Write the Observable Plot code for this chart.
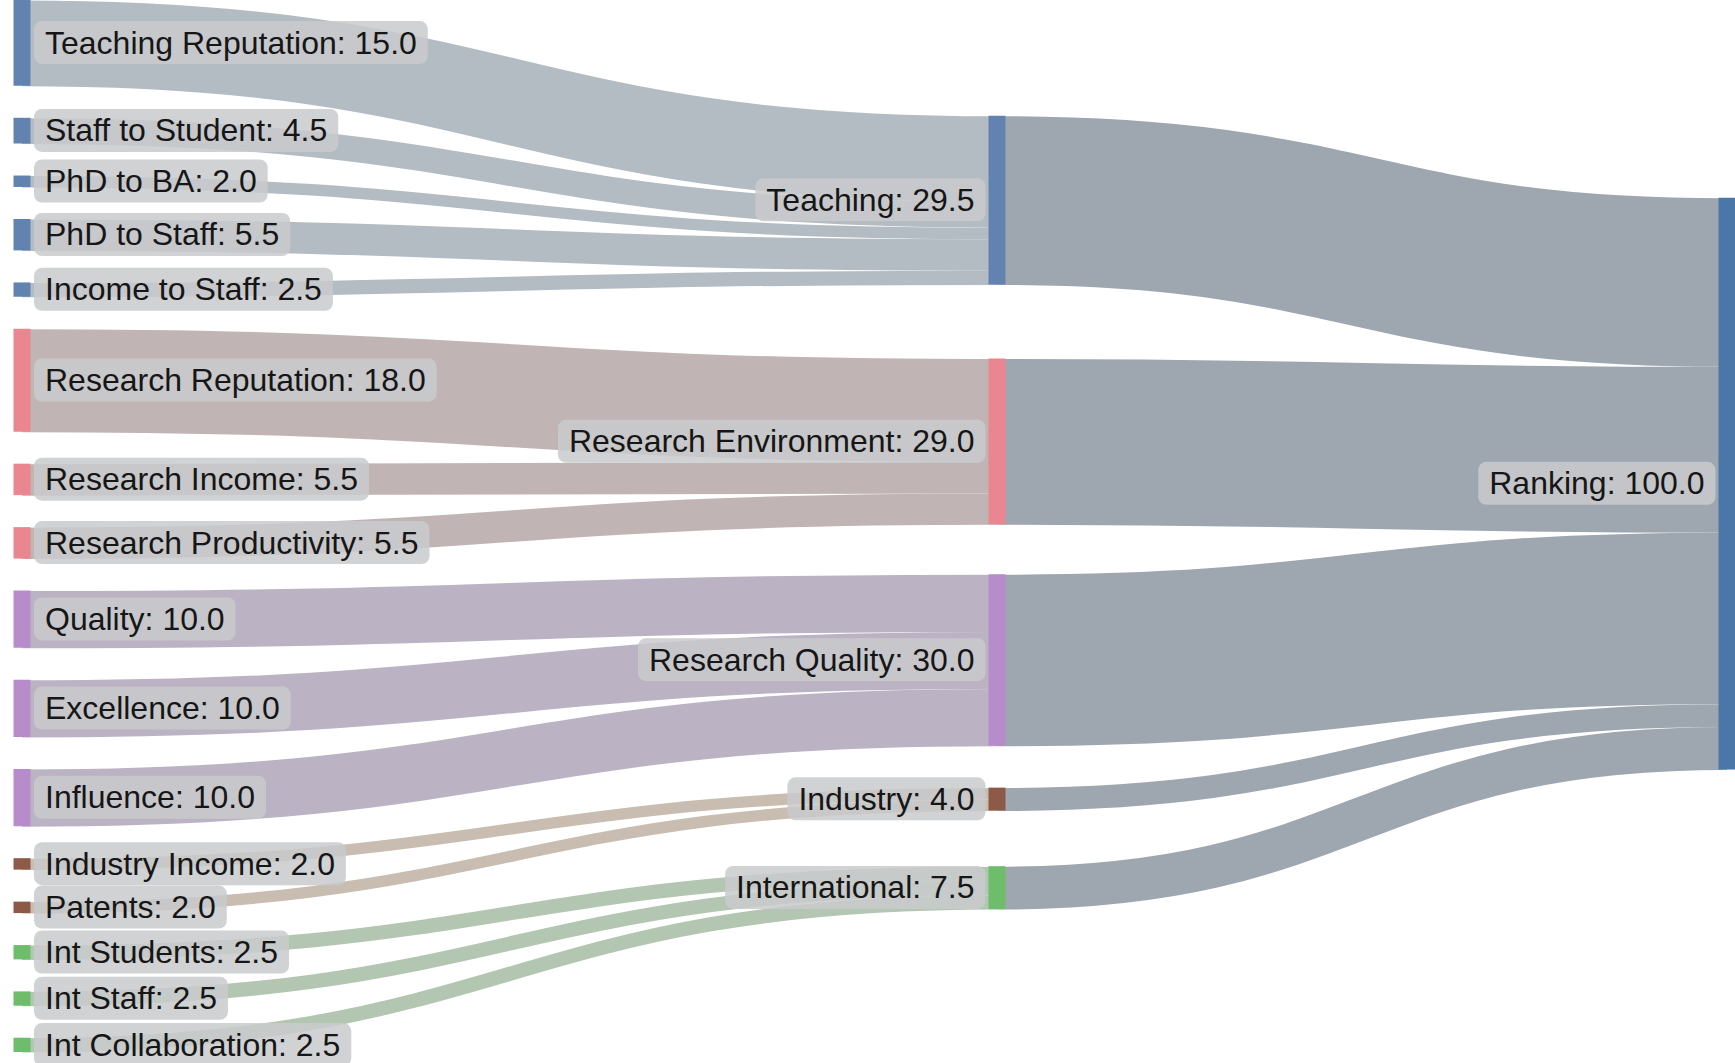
<!DOCTYPE html>
<html>
<head>
<meta charset="utf-8">
<script src="https://cdn.jsdelivr.net/npm/d3@7"></script>
<script src="https://cdn.jsdelivr.net/npm/@observablehq/plot@0.6"></script>
<style>
  html, body { margin: 0; padding: 0; background: #fff; overflow: hidden; }
  #chart svg { display: block; }
</style>
</head>
<body>
<div id="chart"></div>
<script>
// ---------------- data ----------------
const indicatorNames = [
  "Teaching Reputation", "Staff to Student", "PhD to BA", "PhD to Staff", "Income to Staff",
  "Research Reputation", "Research Income", "Research Productivity",
  "Quality", "Excellence", "Influence",
  "Industry Income", "Patents",
  "Int Students", "Int Staff", "Int Collaboration"
];
const indicatorValues = [15.0, 4.5, 2.0, 5.5, 2.5, 18.0, 5.5, 5.5, 10.0, 10.0, 10.0, 2.0, 2.0, 2.5, 2.5, 2.5];
const indicatorPillar = [
  "Teaching", "Teaching", "Teaching", "Teaching", "Teaching",
  "Research Environment", "Research Environment", "Research Environment",
  "Research Quality", "Research Quality", "Research Quality",
  "Industry", "Industry",
  "International", "International", "International"
];
const pillarNames = ["Teaching", "Research Environment", "Research Quality", "Industry", "International"];
const rootName = "Ranking";

// ---------------- styles ----------------
const nodeColor = {
  "Teaching": "#6283b0", "Research Environment": "#e9868f", "Research Quality": "#b68cca",
  "Industry": "#8c5a47", "International": "#6dbd6b", "Ranking": "#4a77a8"
};
const linkColor = {
  "Teaching": "#b3bbc3", "Research Environment": "#c1b4b4", "Research Quality": "#bbb3c3",
  "Industry": "#c8bdb0", "International": "#b3c6b1", "Ranking": "#9ea6af"
};
const W = 1735, H = 1063;
const nodePadding = 5.6;      // gap between nodes, in value units
const nodeWidth = 17;         // px
const colCenters = [21.5, 996.5, 1726.5];
const plotBottom = 1052;
const iterations = 32;

// ---------------- graph ----------------
const nodes = [];
const byName = new Map();
function addNode(name, layer, group) {
  const n = {name, layer, group, sourceLinks: [], targetLinks: [], index: nodes.length};
  nodes.push(n); byName.set(name, n); return n;
}
indicatorNames.forEach((n, i) => addNode(n, 0, indicatorPillar[i]));
pillarNames.forEach(n => addNode(n, 1, n));
addNode(rootName, 2, rootName);

const links = [];
indicatorNames.forEach((n, i) => links.push({source: byName.get(n), target: byName.get(indicatorPillar[i]), value: indicatorValues[i]}));
pillarNames.forEach(p => links.push({
  source: byName.get(p), target: byName.get(rootName),
  value: d3.sum(indicatorValues.filter((v, i) => indicatorPillar[i] === p))
}));
links.forEach((l, i) => { l.index = i; l.source.sourceLinks.push(l); l.target.targetLinks.push(l); });
nodes.forEach(n => n.value = Math.max(d3.sum(n.sourceLinks, l => l.value), d3.sum(n.targetLinks, l => l.value)));

// ---------------- sankey layout (centre relaxation, input order kept) ----------------
const columns = d3.groups(nodes, n => n.layer).sort((a, b) => a[0] - b[0]).map(g => g[1]);
const colLen = d3.max(columns, c => c.length);
const py = nodePadding;
const Y0 = 0, Y1 = d3.sum(columns[0], n => n.value) + (colLen - 1) * py;
const ky = d3.min(columns, c => (Y1 - Y0 - (c.length - 1) * py) / d3.sum(c, n => n.value));
columns.forEach(c => c.forEach((n, i) => { n.y = i; n.dy = n.value * ky; }));
links.forEach(l => l.dy = l.value * ky);
const center = n => n.y + n.dy / 2;

function resolveColumn(c) {
  let y0 = Y0, node, dy;
  for (const n of c) { node = n; dy = y0 - n.y; if (dy > 0) n.y += dy; y0 = n.y + n.dy + py; }
  dy = y0 - py - Y1;
  if (dy > 0) {
    y0 = node.y -= dy;
    for (let i = c.length - 2; i >= 0; --i) { const n = c[i]; dy = n.y + n.dy + py - y0; if (dy > 0) n.y -= dy; y0 = n.y; }
  }
}
function relaxRightToLeft(alpha) {
  for (const c of columns.slice().reverse()) for (const n of c) {
    if (!n.sourceLinks.length) continue;
    const y = d3.sum(n.sourceLinks, l => center(l.target) * l.value) / d3.sum(n.sourceLinks, l => l.value);
    n.y += (y - center(n)) * alpha;
  }
}
function relaxLeftToRight(alpha) {
  for (const c of columns) for (const n of c) {
    if (!n.targetLinks.length) continue;
    const y = d3.sum(n.targetLinks, l => center(l.source) * l.value) / d3.sum(n.targetLinks, l => l.value);
    n.y += (y - center(n)) * alpha;
  }
}
columns.forEach(resolveColumn);
for (let alpha = 1, it = iterations; it > 0; --it) {
  alpha *= 0.99;
  relaxRightToLeft(alpha);
  columns.filter(c => !c.some(n => n.targetLinks.length)).forEach(resolveColumn);  // columns that will not move again
  relaxLeftToRight(alpha);
  columns.filter(c => c.some(n => n.targetLinks.length)).forEach(resolveColumn);
}
for (const n of nodes) {
  n.sourceLinks.sort((a, b) => a.target.y - b.target.y);
  n.targetLinks.sort((a, b) => a.source.y - b.source.y);
}
for (const n of nodes) {
  let s = 0, t = 0;
  for (const l of n.sourceLinks) { l.sy = n.y + s + l.dy / 2; s += l.dy; }
  for (const l of n.targetLinks) { l.ty = n.y + t + l.dy / 2; t += l.dy; }
}

// ---------------- plot ----------------
const pxPerUnit = plotBottom / (Y1 - Y0);
const linkRows = links.map(l => ({
  x1: l.source.layer, x2: l.target.layer, y1: l.sy, y2: l.ty,
  w: l.dy * pxPerUnit, color: linkColor[l.target.group]
}));
const nodeRows = nodes.map(n => ({
  layer: n.layer, y0: n.y, y1: n.y + n.dy, ym: n.y + n.dy / 2, color: nodeColor[n.group],
  label: `${n.name}: ${n.value.toFixed(1)}`
}));

const font = "Liberation Sans, Arial, Helvetica, sans-serif";
const chart = Plot.plot({
  width: W, height: H,
  margin: 0,
  style: {background: "#fff", fontFamily: font},
  x: {type: "linear", domain: [0, 1, 2], range: colCenters, axis: null},
  y: {domain: [Y0, Y1], range: [0, plotBottom], axis: null},
  color: {type: "identity"},
  marks: [
    Plot.link(linkRows, {x1: "x1", y1: "y1", x2: "x2", y2: "y2", curve: "bump-x",
      stroke: "color", strokeWidth: "w", strokeOpacity: 1}),
    Plot.ruleX(nodeRows, {x: "layer", y1: "y0", y2: "y1", stroke: "color", strokeWidth: nodeWidth}),
    Plot.text(nodeRows.filter(d => d.layer === 0), {x: "layer", y: "ym", text: "label",
      textAnchor: "start", dx: nodeWidth / 2 + 14.5, fontSize: 32, fill: "#161616"}),
    Plot.text(nodeRows.filter(d => d.layer > 0), {x: "layer", y: "ym", text: "label",
      textAnchor: "end", dx: -(nodeWidth / 2 + 14), fontSize: 32, fill: "#161616"})
  ]
});
document.getElementById("chart").appendChild(chart);

// rounded label backgrounds behind each label text
const svgNS = "http://www.w3.org/2000/svg";
chart.querySelectorAll("text").forEach(t => {
  const b = t.getBBox();
  if (!b.width) return;
  const r = document.createElementNS(svgNS, "rect");
  r.setAttribute("x", b.x - 11);
  r.setAttribute("y", b.y - 3.5);
  r.setAttribute("width", b.width + 22);
  r.setAttribute("height", b.height + 7);
  r.setAttribute("rx", 8);
  r.setAttribute("fill", "#c9cacd");
  r.setAttribute("fill-opacity", 0.85);
  r.setAttribute("stroke", "none");
  const tr = t.getAttribute("transform");
  if (tr) r.setAttribute("transform", tr);
  t.parentNode.insertBefore(r, t);
});
</script>
</body>
</html>
